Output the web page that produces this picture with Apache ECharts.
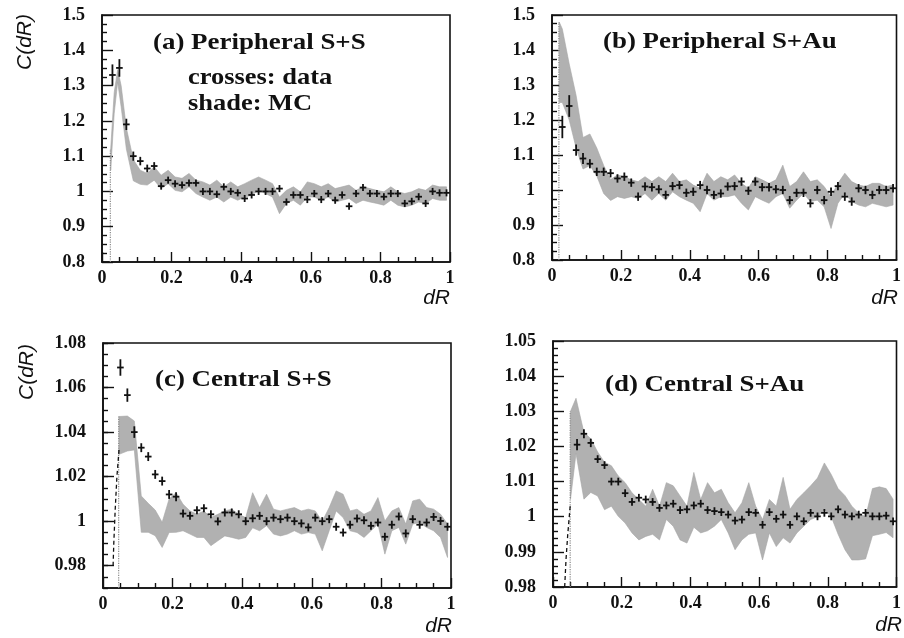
<!DOCTYPE html>
<html>
<head>
<meta charset="utf-8">
<script src="https://cdn.jsdelivr.net/npm/echarts@6.0.0/dist/echarts.min.js"></script>
<style>
  html, body { margin: 0; padding: 0; background: #fff; }
  #chart { width: 904px; height: 638px; }
</style>
</head>
<body>
<div id="chart"></div>
<script>
// ---------------- DATA ----------------
const binCenters = [0.03,0.05,0.07,0.09,0.11,0.13,0.15,0.17,0.19,0.21,0.23,0.25,0.27,0.29,0.31,0.33,0.35,0.37,0.39,0.41,0.43,0.45,0.47,0.49,0.51,0.53,0.55,0.57,0.59,0.61,0.63,0.65,0.67,0.69,0.71,0.73,0.75,0.77,0.79,0.81,0.83,0.85,0.87,0.89,0.91,0.93,0.95,0.97,0.99];

const xTickLabels = ['0','0.2','0.4','0.6','0.8','1'];
const titles = ['(a) Peripheral S+S', '(b) Peripheral S+Au', '(c) Central S+S', '(d) Central S+Au'];
const legendLines = ['crosses: data', 'shade: MC'];

// (a) Peripheral S+S
const dataA = [1.33,1.35,1.19,1.10,1.086,1.065,1.072,1.015,1.032,1.022,1.018,1.024,1.024,1.0,1.0,0.992,1.013,1.0,0.996,0.98,0.99,1.0,1.0,1.0,1.008,0.97,0.99,0.99,0.977,0.994,0.977,0.994,0.975,0.99,0.958,0.994,1.011,0.994,0.994,0.985,0.994,0.994,0.966,0.972,0.985,0.966,1.0,0.996,0.996];
const errA = [0.03,0.025,0.016,0.013,0.012,0.011,0.011,0.01,0.01,0.01,0.01,0.01,0.01,0.01,0.01,0.01,0.01,0.01,0.01,0.01,0.01,0.01,0.01,0.01,0.01,0.01,0.01,0.01,0.01,0.01,0.01,0.01,0.01,0.01,0.01,0.01,0.01,0.01,0.01,0.01,0.01,0.01,0.01,0.01,0.01,0.01,0.01,0.01,0.01];
const bandAX = [0.025,0.035,0.045,0.055,0.07,0.09,0.11,0.13,0.15,0.17,0.19,0.21,0.23,0.25,0.27,0.29,0.31,0.33,0.35,0.37,0.39,0.41,0.43,0.45,0.47,0.49,0.51,0.53,0.55,0.57,0.59,0.61,0.63,0.65,0.67,0.69,0.71,0.73,0.75,0.77,0.79,0.81,0.83,0.85,0.87,0.89,0.91,0.93,0.95,0.97,0.99];
const bandALo = [1.06,1.22,1.31,1.24,1.12,1.03,1.02,1.018,1.032,1.008,1.022,1.003,0.999,1.013,0.994,0.984,0.975,0.984,0.970,0.984,0.975,0.984,0.989,1.003,0.994,0.984,0.937,0.966,0.975,0.961,0.984,0.984,0.975,0.984,0.970,0.975,0.980,0.966,0.975,0.970,0.966,0.961,0.975,0.961,0.956,0.961,0.970,0.966,0.980,0.975,0.975];
const bandAHi = [1.12,1.28,1.345,1.30,1.18,1.09,1.06,1.051,1.07,1.046,1.06,1.041,1.037,1.051,1.032,1.027,1.018,1.032,1.013,1.027,1.013,1.022,1.032,1.041,1.032,1.022,0.984,1.003,1.013,0.999,1.027,1.022,1.013,1.022,1.008,1.013,1.018,1.003,1.013,1.008,1.003,0.999,1.013,0.999,0.994,0.999,1.008,1.003,1.018,1.013,1.013];
const edgeAX = [0.024,0.024];
const edgeAY = [0.8,1.12];

// (b) Peripheral S+Au
const dataB = [1.18,1.24,1.114,1.09,1.075,1.052,1.052,1.048,1.033,1.038,1.021,0.981,1.01,1.008,1.002,0.986,1.011,1.014,0.992,0.995,1.014,1.0,0.986,0.99,1.01,1.011,1.024,0.998,1.024,1.008,1.008,1.002,1.0,0.971,0.992,0.992,0.962,1.0,0.971,0.995,1.011,0.981,0.967,1.005,1.0,0.986,1.0,1.0,1.005];
const errB = [0.032,0.031,0.016,0.016,0.013,0.012,0.012,0.012,0.012,0.012,0.012,0.012,0.012,0.012,0.012,0.012,0.012,0.012,0.012,0.012,0.012,0.012,0.012,0.012,0.012,0.012,0.012,0.012,0.012,0.012,0.012,0.012,0.012,0.012,0.012,0.012,0.012,0.012,0.012,0.012,0.012,0.012,0.012,0.012,0.012,0.012,0.012,0.012,0.012];
const bandBX = [0.021,0.03,0.05,0.07,0.09,0.11,0.13,0.15,0.17,0.19,0.21,0.23,0.25,0.27,0.29,0.31,0.33,0.35,0.37,0.39,0.41,0.43,0.45,0.47,0.49,0.51,0.53,0.55,0.57,0.59,0.61,0.63,0.65,0.67,0.69,0.71,0.73,0.75,0.77,0.79,0.81,0.83,0.85,0.87,0.89,0.91,0.93,0.95,0.97,0.99];
const bandBLo = [1.25,1.25,1.20,1.12,1.06,1.07,1.04,0.99,0.97,0.981,0.976,0.981,0.976,0.99,0.971,0.99,0.971,0.995,0.981,0.971,0.962,0.938,0.99,0.971,0.981,0.981,0.986,0.962,0.943,0.981,0.971,0.962,0.981,0.99,0.948,0.971,0.99,0.967,0.971,0.952,0.89,0.962,0.99,0.967,0.957,0.952,0.962,0.957,0.952,0.957];
const bandBHi = [1.48,1.46,1.36,1.27,1.15,1.16,1.12,1.07,1.03,1.043,1.038,1.029,1.024,1.038,1.024,1.038,1.024,1.048,1.024,1.029,1.014,1.005,1.048,1.024,1.038,1.029,1.043,1.019,1.005,1.038,1.029,1.019,1.029,1.071,1.01,1.024,1.052,1.024,1.029,1.01,0.981,1.019,1.048,1.024,1.014,1.01,1.019,1.019,1.01,1.014];
const edgeBX = [0.02,0.02];
const edgeBY = [0.8,1.48];

// (c) Central S+S  (data from dR = 0.05)
const dataC = [1.069,1.0566,1.040,1.033,1.029,1.021,1.018,1.012,1.011,1.0034,1.0024,1.0049,1.0058,1.0031,0.9999,1.0039,1.0039,1.0031,1.0,1.0013,1.0024,1.0,1.0016,1.0009,1.0016,1.0,0.999,0.9972,1.0016,1.0,1.0009,0.9975,0.9949,0.9984,1.0012,1.0004,0.9979,0.9994,0.993,0.9984,1.0021,0.9945,1.0009,0.9984,0.9994,1.0019,1.0001,0.9975];
const errC = [0.0037,0.003,0.0026,0.002,0.002,0.002,0.002,0.002,0.002,0.0018,0.0018,0.0018,0.0018,0.0018,0.0018,0.0018,0.0018,0.0018,0.0018,0.0018,0.0018,0.0018,0.0018,0.0018,0.0018,0.0018,0.0018,0.0018,0.0018,0.0018,0.0018,0.0018,0.0018,0.0018,0.0018,0.0018,0.0018,0.0018,0.0018,0.0018,0.0018,0.0018,0.0018,0.0018,0.0018,0.0018,0.0018,0.0018];
const bandCX = [0.046,0.07,0.09,0.11,0.13,0.15,0.17,0.19,0.21,0.23,0.25,0.27,0.29,0.31,0.33,0.35,0.37,0.39,0.41,0.43,0.45,0.47,0.49,0.51,0.53,0.55,0.57,0.59,0.61,0.63,0.65,0.67,0.69,0.71,0.73,0.75,0.77,0.79,0.81,0.83,0.85,0.87,0.89,0.91,0.93,0.95,0.97,0.99];
const bandCLo = [1.030,1.0315,1.032,0.995,0.995,0.9935,0.9882,0.9949,0.995,0.9957,0.9942,0.9927,0.9927,0.9890,0.9912,0.9934,0.9927,0.9919,0.9927,0.997,0.9957,0.998,0.9942,0.9934,0.9942,0.9957,0.9942,0.9949,0.9942,0.9867,0.9957,1.0046,1.0016,0.9957,0.9949,0.9927,0.9957,0.9987,0.9852,0.9957,0.9972,0.9897,0.9987,0.9994,0.9972,0.9957,0.9927,0.9837];
const bandCHi = [1.047,1.0472,1.045,1.0113,1.008,1.005,0.9995,1.010,1.0128,1.0076,1.0046,1.0031,1.0046,1.0016,1.0031,1.0046,1.0054,1.0031,1.0016,1.0128,1.0061,1.0121,1.0054,1.0046,1.0054,1.0061,1.0046,1.0054,1.0046,0.9999,1.0061,1.0136,1.0121,1.0046,1.0054,1.0031,1.0046,1.0106,1.0001,1.0046,1.0061,0.9987,1.0091,1.0099,1.0061,1.0054,1.0031,0.9987];
const edgeCX = [0.045,0.045];
const edgeCY = [0.97,1.047];
const dashCX = [0.029,0.031,0.035,0.040,0.046];
const dashCY = [0.98,0.99,1.005,1.02,1.032];
const yTicksC = [0.98,1.0,1.02,1.04,1.06,1.08];

// (d) Central S+Au  (data from dR = 0.07)
const dataD = [1.0205,1.0236,1.021,1.0164,1.0147,1.01,1.01,1.0067,1.0042,1.0054,1.0049,1.0042,1.0025,1.0032,1.0037,1.0019,1.0021,1.0032,1.0037,1.0019,1.0016,1.0013,1.0006,0.9989,0.9992,1.0013,1.0011,0.9977,1.0013,0.9994,1.0006,0.9977,1.0001,0.9987,1.0011,1.0001,1.0011,1.0001,1.0021,1.0006,1.0001,1.0006,1.0011,1.0001,1.0001,1.0003,0.9987];
const errD = [0.0016,0.0013,0.0012,0.0011,0.0011,0.0011,0.0011,0.0011,0.0011,0.0011,0.0011,0.0011,0.0011,0.0011,0.0011,0.0011,0.0011,0.0011,0.0011,0.0011,0.0011,0.0011,0.0011,0.0011,0.0011,0.0011,0.0011,0.0011,0.0011,0.0011,0.0011,0.0011,0.0011,0.0011,0.0011,0.0011,0.0011,0.0011,0.0011,0.0011,0.0011,0.0011,0.0011,0.0011,0.0011,0.0011,0.0011];
const bandDX = [0.051,0.067,0.09,0.11,0.13,0.15,0.17,0.19,0.21,0.23,0.25,0.27,0.29,0.31,0.33,0.35,0.37,0.39,0.41,0.43,0.45,0.47,0.49,0.51,0.53,0.55,0.57,0.59,0.61,0.63,0.65,0.67,0.69,0.71,0.73,0.75,0.77,0.79,0.81,0.83,0.85,0.87,0.89,0.91,0.93,0.95,0.97,0.99];
const bandDLo = [1.005,1.018,1.005,1.0069,1.0059,1.002,1.003,1.0001,0.9982,0.9954,0.9934,0.9944,0.995,0.9934,0.9992,0.9973,0.9934,0.9925,0.997,0.9954,0.996,0.9973,0.9992,0.9954,0.9906,0.9934,0.995,0.9954,0.9877,0.9954,0.9915,0.994,0.9925,0.9954,0.9973,0.9992,1.0,1.002,1.0,0.995,0.9906,0.9877,0.9877,0.988,0.9946,0.995,0.9955,0.994];
const bandDHi = [1.03,1.0337,1.024,1.0222,1.0184,1.0155,1.0145,1.0116,1.0097,1.0068,1.0049,1.003,1.0078,1.003,1.0097,1.0088,1.0059,1.003,1.0126,1.0049,1.0097,1.0068,1.0078,1.004,1.0011,1.004,1.0097,1.003,0.9992,1.0049,1.003,1.0112,1.0021,1.0049,1.0068,1.0088,1.011,1.0153,1.012,1.008,1.006,1.003,1.001,1.0,1.008,1.0085,1.008,1.005];
const edgeDX = [0.05,0.05];
const edgeDY = [0.98,1.03];
const dashDX = [0.034,0.038,0.043,0.05];
const dashDY = [0.98,0.988,0.995,1.003];

// ---------------- CHART ----------------
const SERIF = '"Liberation Serif", "Times New Roman", serif';
const SANS = '"Liberation Sans", Arial, sans-serif';
const INK = '#111111';
const SHADE = '#b1b1b1';

const grids = [
  { left: 102, top: 15, width: 348, height: 247 },
  { left: 552, top: 15, width: 346, height: 245 },
  { left: 103, top: 343, width: 348, height: 245 },
  { left: 553, top: 341, width: 345, height: 246 }
];

const fmt = v => String(+(+v).toFixed(3));

function xAxisCfg(g) {
  return {
    type: 'value', gridIndex: g, min: 0, max: 1, interval: 0.2,
    axisLine: { show: true, onZero: false, lineStyle: { color: INK, width: 1.6 } },
    axisTick: { show: true, inside: true, length: 10, lineStyle: { color: INK, width: 1.4 } },
    minorTick: { show: true, splitNumber: 4, length: 5, lineStyle: { color: INK, width: 1.4 } },
    splitLine: { show: false }, minorSplitLine: { show: false },
    axisLabel: {
      margin: 7, color: INK, fontFamily: SERIF, fontWeight: 'bold', fontSize: 18,
      formatter: v => { const i = Math.round(v / 0.2); return xTickLabels[i] !== undefined ? xTickLabels[i] : fmt(v); }
    }
  };
}

function yAxisCfg(g, min, max, interval, minorSplit) {
  return {
    type: 'value', gridIndex: g, min: min, max: max, interval: interval,
    axisLine: { show: true, onZero: false, lineStyle: { color: INK, width: 1.6 } },
    axisTick: { show: true, inside: true, length: 11, lineStyle: { color: INK, width: 1.4 } },
    minorTick: { show: minorSplit > 0, splitNumber: minorSplit || 5, length: 5, lineStyle: { color: INK, width: 1.4 } },
    splitLine: { show: false }, minorSplitLine: { show: false },
    axisLabel: { margin: 17, color: INK, fontFamily: SERIF, fontWeight: 'bold', fontSize: 18, formatter: fmt }
  };
}

const xAxes = [xAxisCfg(0), xAxisCfg(1), xAxisCfg(2), xAxisCfg(3)];
const yAxes = [
  yAxisCfg(0, 0.8, 1.5, 0.1, 4),
  yAxisCfg(1, 0.8, 1.5, 0.1, 4),
  (function () {
    const a = yAxisCfg(2, 0.97, 1.08, 0.005, 0);
    a.axisTick.customValues = yTicksC;
    a.axisLabel.customValues = yTicksC;
    return a;
  })(),
  yAxisCfg(3, 0.98, 1.05, 0.01, 5),
  // minor ticks for panel (c)
  {
    type: 'value', gridIndex: 2, min: 0.97, max: 1.08, interval: 0.005, position: 'left', offset: 0,
    axisLine: { show: false }, axisLabel: { show: false }, splitLine: { show: false },
    axisTick: { show: true, inside: true, length: 5, lineStyle: { color: INK, width: 1.4 } }
  }
];

function bandSeries(g, xs, lo, hi) {
  return {
    type: 'custom', xAxisIndex: g, yAxisIndex: g, z: 1, silent: true,
    data: [[xs[0], lo[0]]],
    renderItem: function (params, api) {
      const pts = [];
      for (let i = 0; i < xs.length; i++) pts.push(api.coord([xs[i], hi[i]]));
      for (let i = xs.length - 1; i >= 0; i--) pts.push(api.coord([xs[i], lo[i]]));
      return { type: 'polygon', shape: { points: pts }, style: { fill: SHADE, stroke: '#a6a6a6', lineWidth: 0.6 } };
    }
  };
}

function crossSeries(g, xs, ys, es) {
  return {
    type: 'custom', xAxisIndex: g, yAxisIndex: g, z: 5, silent: true,
    data: xs.map((x, i) => [x, ys[i], es[i]]),
    renderItem: function (params, api) {
      const x = api.value(0), y = api.value(1), e = api.value(2);
      const l = api.coord([x - 0.0095, y]), r = api.coord([x + 0.0095, y]);
      const t = api.coord([x, y + e]), b = api.coord([x, y - e]);
      const st = { stroke: INK, lineWidth: 1.8 };
      return {
        type: 'group', children: [
          { type: 'line', shape: { x1: l[0], y1: l[1], x2: r[0], y2: r[1] }, style: st },
          { type: 'line', shape: { x1: t[0], y1: t[1], x2: b[0], y2: b[1] }, style: st }
        ]
      };
    }
  };
}

function lineSeries(g, xs, ys, type, color, width) {
  return {
    type: 'line', xAxisIndex: g, yAxisIndex: g, z: 3, silent: true, symbol: 'none',
    data: xs.map((x, i) => [x, ys[i]]),
    lineStyle: { type: type, color: color, width: width }
  };
}

const series = [
  bandSeries(0, bandAX, bandALo, bandAHi),
  lineSeries(0, edgeAX, edgeAY, 'dotted', '#8a8a8a', 1.2),
  crossSeries(0, binCenters, dataA, errA),

  bandSeries(1, bandBX, bandBLo, bandBHi),
  lineSeries(1, edgeBX, edgeBY, 'dotted', '#8a8a8a', 1.2),
  crossSeries(1, binCenters, dataB, errB),

  bandSeries(2, bandCX, bandCLo, bandCHi),
  lineSeries(2, edgeCX, edgeCY, 'dotted', '#8a8a8a', 1.2),
  lineSeries(2, dashCX, dashCY, [4, 3], INK, 1.3),
  crossSeries(2, binCenters.slice(1), dataC, errC),

  bandSeries(3, bandDX, bandDLo, bandDHi),
  lineSeries(3, edgeDX, edgeDY, 'dotted', '#8a8a8a', 1.2),
  lineSeries(3, dashDX, dashDY, [4, 3], INK, 1.3),
  crossSeries(3, binCenters.slice(2), dataD, errD)
];

function titleText(txt, x, baseline, size, sx) {
  return {
    type: 'text', x: x, y: baseline - 0.34 * size, scaleX: sx, z: 10, silent: true,
    style: { text: txt, fontFamily: SERIF, fontWeight: 'bold', fontSize: size, fill: INK, align: 'left', verticalAlign: 'middle' }
  };
}
function italicText(txt, x, y, align, rot) {
  return {
    type: 'text', x: x, y: y, rotation: rot || 0, z: 10, silent: true,
    style: { text: txt, fontFamily: SANS, fontStyle: 'italic', fontSize: 21, fill: INK, align: align, verticalAlign: 'middle' }
  };
}

const graphics = [
  titleText(titles[0], 153, 51, 23, 1.17),
  titleText(legendLines[0], 188, 86, 23, 1.15),
  titleText(legendLines[1], 188, 112, 23, 1.15),
  titleText(titles[1], 603, 50, 23, 1.17),
  titleText(titles[2], 155, 388, 23, 1.17),
  titleText(titles[3], 605, 393, 23, 1.17),
  italicText('C(dR)', 25, 42, 'center', Math.PI / 2),
  italicText('C(dR)', 27, 372, 'center', Math.PI / 2),
  italicText('dR', 450, 298, 'right'),
  italicText('dR', 898, 298, 'right'),
  italicText('dR', 452, 626, 'right'),
  italicText('dR', 902, 625, 'right')
];

const chart = echarts.init(document.getElementById('chart'), null, { renderer: 'canvas' });
chart.setOption({
  backgroundColor: '#ffffff',
  animation: false,
  grid: grids.map(g => Object.assign({ show: true, borderColor: INK, borderWidth: 1.6, backgroundColor: 'transparent' }, g)),
  xAxis: xAxes,
  yAxis: yAxes,
  series: series,
  graphic: graphics
});
</script>
</body>
</html>
